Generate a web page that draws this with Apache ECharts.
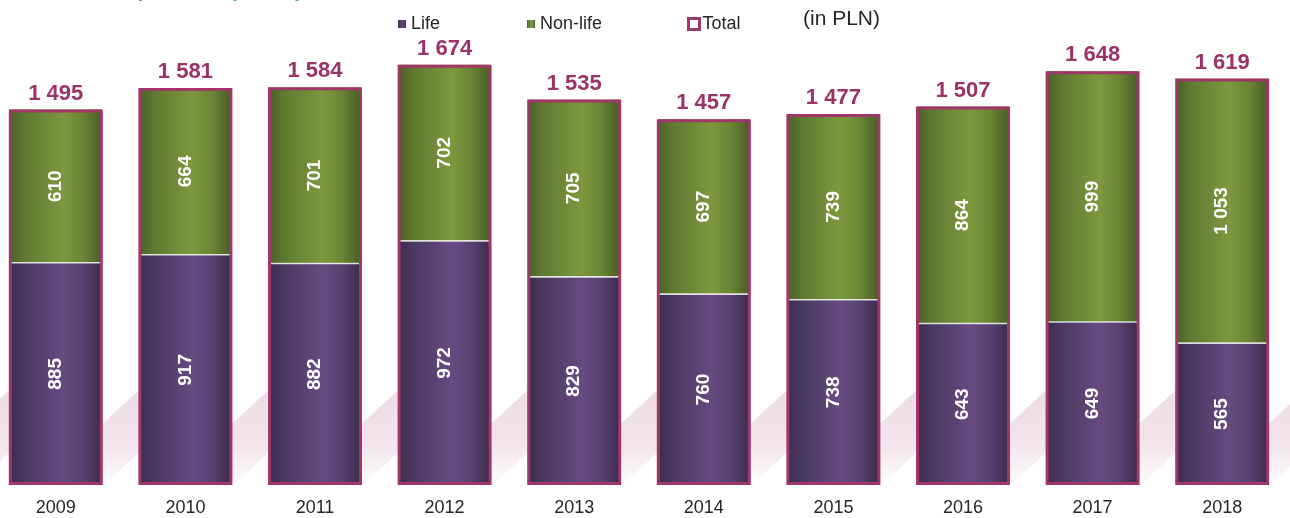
<!DOCTYPE html>
<html>
<head>
<meta charset="utf-8">
<script src="https://cdn.jsdelivr.net/npm/echarts@6/dist/echarts.min.js"></script>
<style>
html,body{margin:0;padding:0;background:#fff;overflow:hidden;width:1290px;height:518px;position:relative;}
#chart{position:absolute;left:-9px;top:0;width:1299px;height:518px;}
</style>
</head>
<body>
<div id="chart"></div>
<script>
// ---- data ----
var years = ['2009','2010','2011','2012','2013','2014','2015','2016','2017','2018'];
var life = [885, 917, 882, 972, 829, 760, 738, 643, 649, 565];
var nonLife = [610, 664, 701, 702, 705, 697, 739, 864, 999, 1053];
var total = [1495, 1581, 1584, 1674, 1535, 1457, 1477, 1507, 1648, 1619];
var legendNames = ['Life', 'Non-life', 'Total'];
var unitNote = '(in PLN)';
var titleText = 'Gross premium per capita';

// ---- styles ----
var FONT = '"Liberation Sans", Arial, sans-serif';
var MAGENTA = '#A13668';
var OFF = 9; // container is shifted 9px left of the page
function fmt(v){ return String(v).replace(/\B(?=(\d{3})+(?!\d))/g, ' '); }
function hGrad(stops){
  return new echarts.graphic.LinearGradient(0,0,1,0, stops.map(function(s){return {offset:s[0], color:s[1]};}));
}
var purple = hGrad([[0,'#3D2D4F'],[0.15,'#4A3861'],[0.58,'#664B81'],[0.8,'#584170'],[1,'#3C2C4D']]);
var green = hGrad([[0,'#4A6027'],[0.15,'#5E7931'],[0.58,'#7C993E'],[0.8,'#698434'],[1,'#495E26']]);

var chart = echarts.init(document.getElementById('chart'), null, {renderer:'canvas'});

// decorative watermark stripes
var stripes = [];
for (var k = -1; k < 11; k++) {
  var bx = OFF + 56 + 129.6 * k;
  stripes.push({
    type:'polygon', silent:true, z:-10,
    shape:{points:[[bx+82,391],[bx+150,391],[bx+51,482],[bx-17,482]]},
    style:{fill:new echarts.graphic.LinearGradient(0,0,0,1,[
      {offset:0,color:'rgba(214,170,190,0.42)'},
      {offset:0.6,color:'rgba(214,170,190,0.3)'},
      {offset:1,color:'rgba(214,170,190,0.05)'}])}
  });
}

var option = {
  animation:false,
  backgroundColor:'#fff',
  textStyle:{fontFamily:FONT},
  grid:{left:0, right:3, top:33, bottom:33, containLabel:false},
  legend:[
    {data:[legendNames[0]], left:OFF+393, top:10, icon:'rect', itemWidth:8, itemHeight:8,
     textStyle:{fontSize:18, color:'#262626', fontFamily:FONT}},
    {data:[legendNames[1]], left:OFF+522, top:10, icon:'rect', itemWidth:8, itemHeight:8,
     textStyle:{fontSize:18, color:'#262626', fontFamily:FONT}},
    {data:[{name:legendNames[2], itemStyle:{color:'#fff', borderColor:MAGENTA, borderWidth:3}}],
     left:OFF+682, top:10, icon:'rect', itemWidth:11, itemHeight:11, itemGap:0,
     textStyle:{fontSize:18, color:'#262626', fontFamily:FONT, padding:[0,0,0,-2]}}
  ],
  xAxis:[
    {type:'category', data:years, axisLine:{show:false}, axisTick:{show:false},
     axisLabel:{fontSize:18, color:'#262626', margin:14, fontFamily:FONT}},
    {type:'category', data:years, show:false}
  ],
  yAxis:{type:'value', min:0, max:1800, show:false, splitLine:{show:false}},
  graphic:[
    {type:'text', silent:true, x:OFF+71, y:-9, style:{text:titleText, fill:'#45A3C4',
      font:'bold 21px ' + FONT, verticalAlign:'middle', align:'left'}},
    {type:'text', silent:true, left:OFF+803, top:9, style:{text:unitNote, fill:'#262626',
      font:'21px ' + FONT}}
  ].concat(stripes),
  series:[
    {name:legendNames[0], type:'bar', stack:'p', xAxisIndex:0, data:life, barWidth:91,
     itemStyle:{color:purple}, z:2,
     label:{show:true, position:'inside', rotate:90, color:'#fff', fontSize:19, fontWeight:'bold',
       fontFamily:FONT, formatter:function(p){return fmt(p.value);}}},
    {name:legendNames[1], type:'bar', stack:'p', xAxisIndex:0, data:nonLife, barWidth:91,
     itemStyle:{color:green}, z:2,
     label:{show:true, position:'inside', rotate:90, color:'#fff', fontSize:19, fontWeight:'bold',
       fontFamily:FONT, formatter:function(p){return fmt(p.value);}}},
    {name:'sep', type:'scatter', xAxisIndex:0, data:life, symbol:'rect', symbolSize:[91,1.6],
     itemStyle:{color:'#fff'}, z:4, silent:true},
    {name:legendNames[2], type:'bar', xAxisIndex:1, data:total, barWidth:94, z:5,
     itemStyle:{color:'rgba(0,0,0,0)', borderColor:MAGENTA, borderWidth:3},
     label:{show:true, position:'top', distance:5, color:'#9B3366', fontSize:22, fontWeight:'bold',
       fontFamily:FONT, formatter:function(p){return fmt(p.value);}}}
  ]
};
chart.setOption(option);
</script>
</body>
</html>
